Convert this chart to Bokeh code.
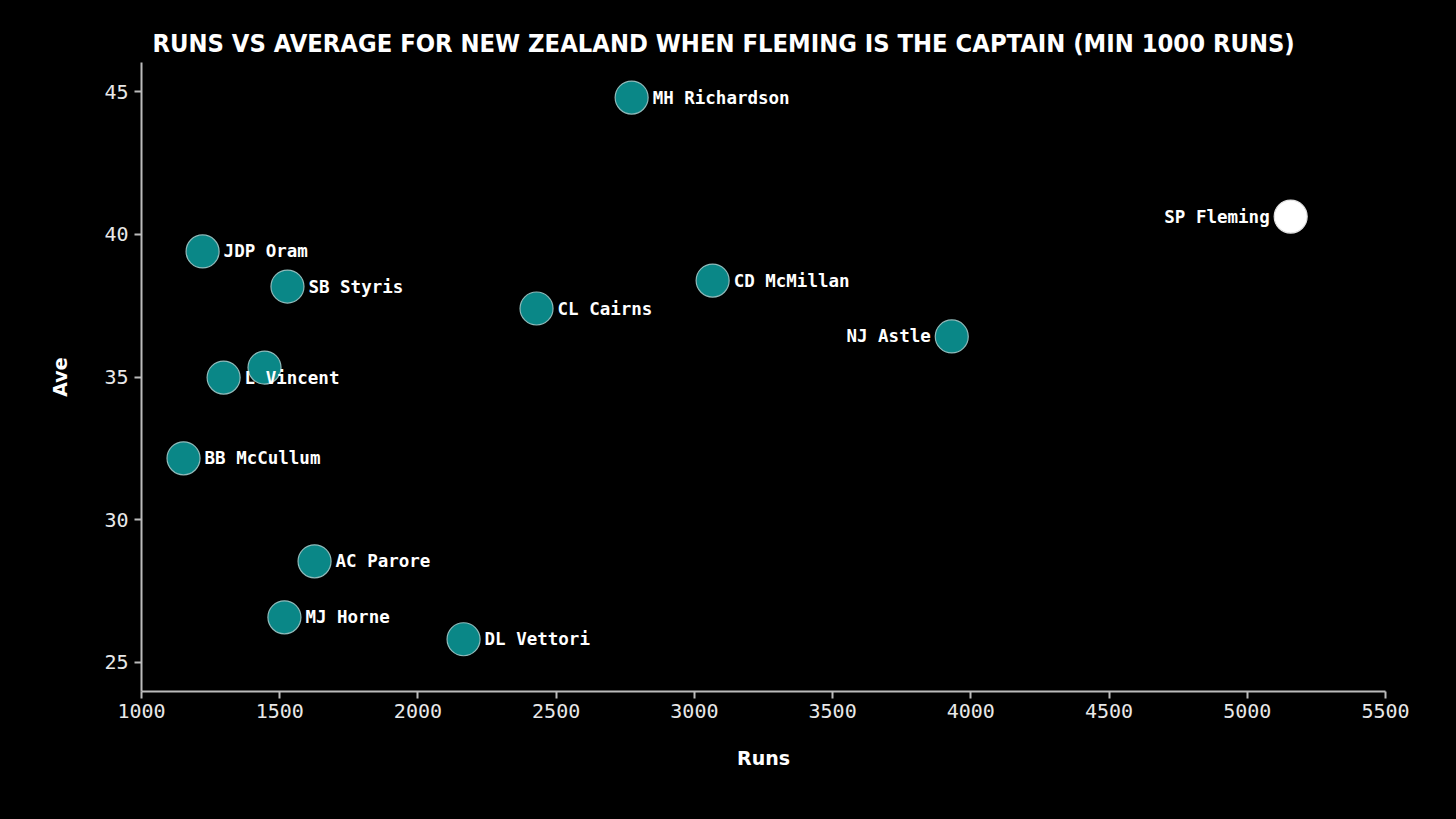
from bokeh.plotting import figure
from bokeh.models import ColumnDataSource, Range1d, SingleIntervalTicker, Title
from bokeh.embed import file_html
from bokeh.resources import INLINE
from bokeh.core.properties import value

# ---- data ----
names = ["MH Richardson", "SP Fleming", "JDP Oram", "SB Styris", "CD McMillan",
         "CL Cairns", "NJ Astle", "", "L Vincent", "BB McCullum",
         "AC Parore", "MJ Horne", "DL Vettori"]
runs = [2773, 5157, 1221, 1528, 3066, 2429, 3931, 1445, 1297, 1152, 1626, 1517, 2165]
ave = [44.79, 40.62, 39.40, 38.17, 38.38, 37.40, 36.42, 35.33, 34.98, 32.15, 28.54, 26.58, 25.81]
captain = "SP Fleming"
left_labels = ["SP Fleming", "NJ Astle"]

x_tick_step = 500
y_tick_step = 5

title_text = "RUNS VS AVERAGE FOR NEW ZEALAND WHEN FLEMING IS THE CAPTAIN (MIN 1000 RUNS)"

fill = ["#ffffff" if n == captain else "#0a8787" for n in names]
line = ["#e0e0e0" if n == captain else "#8fbaba" for n in names]
align = ["right" if n in left_labels else "left" for n in names]
xoff = [-21 if n in left_labels else 21 for n in names]

src = ColumnDataSource(dict(runs=runs, ave=ave, names=names, fill=fill, line=line,
                            align=align, xoff=xoff))

p = figure(width=1456, height=819, output_backend="svg", toolbar_location=None,
           x_range=Range1d(1000, 5500), y_range=Range1d(23.98, 46.02),
           min_border_left=141, min_border_right=71, min_border_top=62, min_border_bottom=128,
           outline_line_color=None)
p.background_fill_color = None
p.border_fill_color = None
p.styles = {"background-color": "black"}
p.xgrid.visible = False
p.ygrid.visible = False

p.add_layout(Title(text=title_text, text_color="white", text_font="DejaVu Sans Condensed",
                   text_font_size="25.3px", text_font_style="bold", align="left",
                   offset=11, standoff=9), "above")

p.scatter("runs", "ave", source=src, size=33, fill_color="fill", line_color="line",
          line_width=1.2)
p.text("runs", "ave", text="names", source=src, x_offset="xoff", text_align="align",
       text_baseline="middle", text_color="white", text_font=value("DejaVu Sans Mono"),
       text_font_size="17.5px", text_font_style="bold")

for ax in (p.xaxis[0], p.yaxis[0]):
    ax.axis_line_color = "#bbbbbb"
    ax.axis_line_width = 2
    ax.major_tick_line_color = "#bbbbbb"
    ax.major_tick_line_width = 2
    ax.major_tick_out = 7
    ax.major_tick_in = 0
    ax.minor_tick_line_color = None
    ax.major_label_text_color = "#e8e8e8"
    ax.major_label_text_font = "DejaVu Sans Mono"
    ax.major_label_text_font_size = "20px"
    ax.axis_label_text_color = "white"
    ax.axis_label_text_font = "DejaVu Sans"
    ax.axis_label_text_font_style = "bold"
    ax.axis_label_text_font_size = "19px"

p.xaxis[0].ticker = SingleIntervalTicker(interval=x_tick_step, num_minor_ticks=0)
p.yaxis[0].ticker = SingleIntervalTicker(interval=y_tick_step, num_minor_ticks=0)
p.xaxis[0].axis_label = "Runs"
p.yaxis[0].axis_label = "Ave"
p.xaxis[0].axis_label_standoff = 26
p.yaxis[0].axis_label_standoff = 30
p.xaxis[0].major_label_standoff = 5
p.yaxis[0].major_label_standoff = 6

open("out.html", "w").write(file_html(p, INLINE))
